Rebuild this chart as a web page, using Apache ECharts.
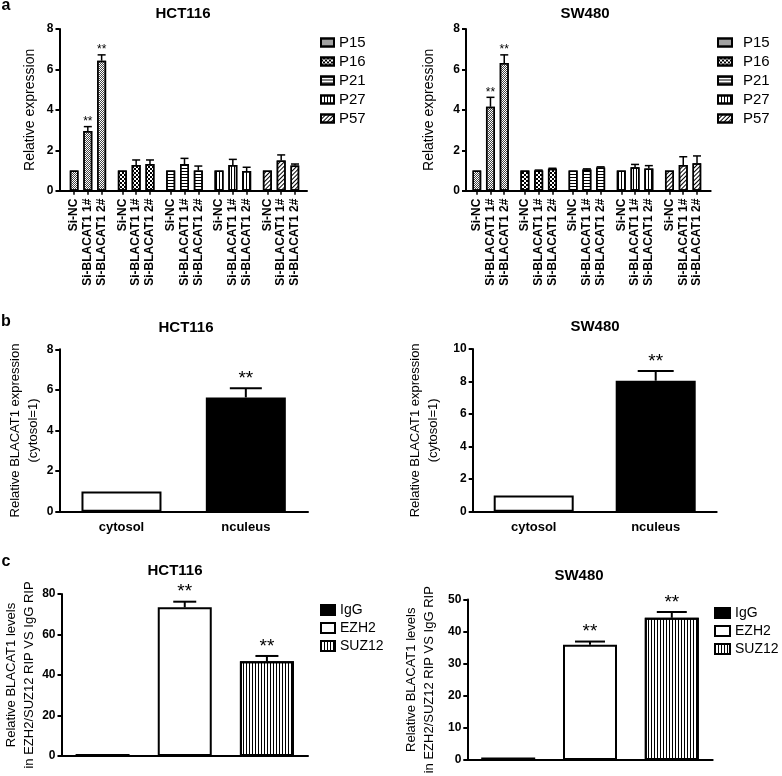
<!DOCTYPE html>
<html><head><meta charset="utf-8">
<script src="https://cdn.jsdelivr.net/npm/echarts@6/dist/echarts.min.js"></script>
<style>html,body{margin:0;padding:0;background:#fff}#c{width:782px;height:776px}</style>
</head><body><div id="c"></div>
<script>
// ---------- data ----------
const genes = ['P15', 'P16', 'P21', 'P27', 'P57'];
const siRNAs = ['Si-NC', 'Si-BLACAT1 1#', 'Si-BLACAT1 2#'];
const hctExprMean = [[1, 2.95, 6.43], [1, 1.27, 1.32], [1, 1.32, 1.0], [1, 1.27, 0.97], [1, 1.49, 1.25]];
const hctExprErr  = [[0, 0.22, 0.29], [0, 0.25, 0.2], [0, 0.28, 0.22], [0, 0.28, 0.19], [0, 0.28, 0.07]];
const hctExprSig  = [['', '**', '**'], ['', '', ''], ['', '', ''], ['', '', ''], ['', '', '']];
const swExprMean  = [[1, 4.15, 6.32], [1, 1.0, 1.08], [1, 1.05, 1.15], [1, 1.16, 1.1], [1, 1.27, 1.36]];
const swExprErr   = [[0, 0.47, 0.4], [0, 0.02, 0.03], [0, 0.03, 0.03], [0, 0.14, 0.14], [0, 0.41, 0.36]];
const swExprSig   = [['', '**', '**'], ['', '', ''], ['', '', ''], ['', '', ''], ['', '', '']];

const fractions = ['cytosol', 'nculeus'];
const hctFracMean = [1, 5.63];
const hctFracErr  = [0, 0.45];
const swFracMean  = [1, 8.05];
const swFracErr   = [0, 0.6];
const fracSig     = ['', '**'];

const ripGroups = ['IgG', 'EZH2', 'SUZ12'];
const hctRipMean = [1.0, 73.4, 46.8];
const hctRipErr  = [0, 2.8, 2.6];
const swRipMean  = [0.8, 35.9, 44.3];
const swRipErr   = [0, 1.0, 1.8];
const ripSig     = ['', '**', '**'];

const yTicksA = {min: 0, max: 8, interval: 2};
const yTicksBL = {min: 0, max: 8, interval: 2};
const yTicksBR = {min: 0, max: 10, interval: 2};
const yTicksCL = {min: 0, max: 80, interval: 20};
const yTicksCR = {min: 0, max: 50, interval: 10};

// ---------- styles ----------
const FONT = "'Liberation Sans', Arial, sans-serif";
const BLK = '#000';
const patterns = {
  P15: {color: '#fff', decal: {symbol: 'rect', color: '#444', dashArrayX: [[1, 1], [0, 1, 1, 0]], dashArrayY: [1, 0], symbolSize: 1}},
  P16: {color: '#fff', decal: {symbol: 'rect', color: '#000', dashArrayX: [[2, 2], [0, 2, 2, 0]], dashArrayY: [2, 0], symbolSize: 1}},
  P21: {color: '#fff', decal: {symbol: 'rect', color: '#000', dashArrayX: [1, 0], dashArrayY: [1, 2], symbolSize: 1}},
  P27: {color: '#fff', decal: {symbol: 'rect', color: '#000', dashArrayX: [1, 2], dashArrayY: [1, 0], symbolSize: 1}},
  P57: {color: '#fff', decal: {symbol: 'rect', color: '#000', dashArrayX: [1, 2], dashArrayY: [1, 0], symbolSize: 1, rotation: Math.PI / 4}},
  IgG: {color: '#000'},
  EZH2: {color: '#fff'},
  SUZ12: {color: '#fff', decal: {symbol: 'rect', color: '#000', dashArrayX: [1, 2], dashArrayY: [1, 0], symbolSize: 1}}
};

// ---------- slot layout for panel a (3 bars per gene, gap between genes) ----------
const SLOTS_PER_GROUP = 7, SLOT_STEP = 2;
const nSlots = (genes.length - 1) * SLOTS_PER_GROUP + (siRNAs.length - 1) * SLOT_STEP + 1;
const slotCats = new Array(nSlots).fill('');
genes.forEach((g, gi) => siRNAs.forEach((s, j) => { slotCats[gi * SLOTS_PER_GROUP + j * SLOT_STEP] = s; }));

function geneSeriesData(means, gi) {
  const arr = new Array(nSlots).fill('-');
  means[gi].forEach((m, j) => { arr[gi * SLOTS_PER_GROUP + j * SLOT_STEP] = m; });
  return arr;
}
function errDataA(means, errs) {
  const out = [];
  means.forEach((row, gi) => row.forEach((m, j) => out.push([gi * SLOTS_PER_GROUP + j * SLOT_STEP, m, errs[gi][j]])));
  return out;
}
function flat(a) { return [].concat.apply([], a); }

function errRender(sigs, capW, lw, fs, gap) {
  return function (params, api) {
    const x = api.value(0), m = api.value(1), e = api.value(2);
    const base = api.coord([x, m]);
    const top = api.coord([x, m + e]);
    const children = [];
    if (e > 0) {
      children.push({type: 'line', shape: {x1: base[0], y1: base[1], x2: top[0], y2: top[1]}, style: {stroke: BLK, lineWidth: lw}});
      children.push({type: 'line', shape: {x1: top[0] - capW / 2, y1: top[1], x2: top[0] + capW / 2, y2: top[1]}, style: {stroke: BLK, lineWidth: lw}});
    }
    const s = sigs[params.dataIndex];
    if (s) {
      children.push({type: 'text', x: top[0], y: top[1] - gap, style: {text: s, fill: BLK, font: fs + 'px ' + FONT, textAlign: 'center', textVerticalAlign: 'bottom'}});
    }
    return {type: 'group', children: children};
  };
}

// ---------- axes helpers ----------
const axisLineStyle = {show: true, lineStyle: {color: BLK, width: 2}};
function frameX(grid) {
  return {type: 'value', gridIndex: grid, min: 0, max: 1, axisLine: axisLineStyle, axisTick: {show: false}, axisLabel: {show: false}, splitLine: {show: false}};
}
function valY(grid, t, name, gap, fs) {
  return {
    type: 'value', gridIndex: grid, min: t.min, max: t.max, interval: t.interval,
    axisLine: axisLineStyle, axisTick: {show: true, length: 4, lineStyle: {color: BLK, width: 2}},
    axisLabel: {color: BLK, fontFamily: FONT, fontWeight: 'bold', fontSize: 12, margin: 6},
    splitLine: {show: false},
    name: name, nameLocation: 'middle', nameGap: gap,
    nameTextStyle: {color: BLK, fontFamily: FONT, fontSize: fs, lineHeight: fs + 5}
  };
}
function hiddenY(grid, t) {
  return {type: 'value', gridIndex: grid, min: t.min, max: t.max, interval: t.interval, show: false, splitLine: {show: false}};
}
function slotX(grid) {
  return {
    type: 'category', gridIndex: grid, data: slotCats, boundaryGap: true,
    axisLine: {show: false},
    axisTick: {show: true, alignWithLabel: true, length: 4, interval: (i, v) => v !== '', lineStyle: {color: BLK, width: 1.5}},
    axisLabel: {interval: 0, rotate: 90, margin: 8, color: BLK, fontFamily: FONT, fontWeight: 'bold', fontSize: 12}
  };
}

const grids = [
  {left: 59.5, top: 29, width: 247.5, height: 161.7},   // 0 a-left frame
  {left: 70.55, top: 29, width: 227.9, height: 161.7},  // 1 a-left bars
  {left: 466, top: 29, width: 244.7, height: 161.7},    // 2 a-right frame
  {left: 473.26, top: 29, width: 227.2, height: 161.7}, // 3 a-right bars
  {left: 59.3, top: 349.3, width: 248.7, height: 162.4},// 4 b-left
  {left: 472.7, top: 349, width: 244, height: 162.7},   // 5 b-right
  {left: 61.5, top: 594, width: 246.5, height: 162},    // 6 c-left
  {left: 467.3, top: 599.5, width: 245.4, height: 160.5}// 7 c-right
];

const xAxes = [
  frameX(0), slotX(1), frameX(2), slotX(3),
  {type: 'category', gridIndex: 4, data: fractions, axisLine: axisLineStyle, axisTick: {alignWithLabel: true, length: 5, lineStyle: {color: BLK, width: 2}}, axisLabel: {color: BLK, fontFamily: FONT, fontWeight: 'bold', fontSize: 13, margin: 9}},
  {type: 'category', gridIndex: 5, data: fractions, axisLine: axisLineStyle, axisTick: {alignWithLabel: true, length: 5, lineStyle: {color: BLK, width: 2}}, axisLabel: {color: BLK, fontFamily: FONT, fontWeight: 'bold', fontSize: 13, margin: 9}},
  {type: 'category', gridIndex: 6, position: 'bottom', data: [''], axisLine: axisLineStyle, axisTick: {alignWithLabel: true, length: 5, lineStyle: {color: BLK, width: 2}}, axisLabel: {show: false}},
  {type: 'category', gridIndex: 6, position: 'top', data: ripGroups, show: false},
  {type: 'category', gridIndex: 7, position: 'bottom', data: [''], axisLine: axisLineStyle, axisTick: {alignWithLabel: true, length: 5, lineStyle: {color: BLK, width: 2}}, axisLabel: {show: false}},
  {type: 'category', gridIndex: 7, position: 'top', data: ripGroups, show: false}
];

const yAxes = [
  valY(0, yTicksA, 'Relative expression', 20, 14),
  hiddenY(1, yTicksA),
  valY(2, yTicksA, 'Relative expression', 27, 14),
  hiddenY(3, yTicksA),
  valY(4, yTicksBL, 'Relative BLACAT1 expression\n(cytosol=1)', 7, 13),
  valY(5, yTicksBR, 'Relative BLACAT1 expression\n(cytosol=1)', 30, 13),
  valY(6, yTicksCL, 'Relative BLACAT1 levels\nin EZH2/SUZ12 RIP VS IgG RIP', 22, 13),
  valY(7, yTicksCR, 'Relative BLACAT1 levels\nin EZH2/SUZ12 RIP VS IgG RIP', 29, 13)
];

const series = [];
// panel a
[[1, hctExprMean], [3, swExprMean]].forEach(([ax, means]) => {
  genes.forEach((g, gi) => {
    series.push({
      name: g, type: 'bar', xAxisIndex: ax, yAxisIndex: ax, barWidth: 9, barGap: '-100%',
      itemStyle: Object.assign({borderColor: BLK, borderWidth: 1.5}, patterns[g]),
      data: geneSeriesData(means, gi), silent: true
    });
  });
});
series.push({type: 'custom', name: 'errA1', xAxisIndex: 1, yAxisIndex: 1, data: errDataA(hctExprMean, hctExprErr), renderItem: errRender(flat(hctExprSig), 8, 1.5, 12, -1), z: 5, silent: true});
series.push({type: 'custom', name: 'errA2', xAxisIndex: 3, yAxisIndex: 3, data: errDataA(swExprMean, swExprErr), renderItem: errRender(flat(swExprSig), 8, 1.5, 12, -1), z: 5, silent: true});
// panel b
[[4, hctFracMean, hctFracErr, 32], [5, swFracMean, swFracErr, 36]].forEach(([ax, means, errs, cap]) => {
  series.push({
    name: 'frac' + ax, type: 'bar', xAxisIndex: ax, yAxisIndex: ax, barWidth: 80, silent: true,
    data: means.map((m, i) => ({value: m, itemStyle: {color: i === 0 ? '#fff' : '#000', borderColor: BLK, borderWidth: 2}}))
  });
  series.push({type: 'custom', name: 'errB' + ax, xAxisIndex: ax, yAxisIndex: ax, data: means.map((m, i) => [i, m, errs[i]]), renderItem: errRender(fracSig, cap, 2, 19, 0), z: 5, silent: true});
});
// panel c
[[7, 6, hctRipMean, hctRipErr, 23], [9, 7, swRipMean, swRipErr, 30]].forEach(([xa, ya, means, errs, cap]) => {
  ripGroups.forEach((g, gi) => {
    const d = ripGroups.map(() => '-');
    d[gi] = means[gi];
    series.push({
      name: g, type: 'bar', xAxisIndex: xa, yAxisIndex: ya, barWidth: 54, barGap: '-100%', silent: true,
      itemStyle: Object.assign({borderColor: BLK, borderWidth: 2}, patterns[g]), data: d
    });
  });
  series.push({type: 'custom', name: 'errC' + ya, xAxisIndex: xa, yAxisIndex: ya, data: means.map((m, i) => [i, m, errs[i]]), renderItem: errRender(ripSig, cap, 2, 19, 0), z: 5, silent: true});
});

function legendAt(names, left, top, w, h, gap, padL, fs) {
  return {data: names, left: left, top: top, orient: 'vertical', icon: 'rect', itemWidth: w, itemHeight: h, itemGap: gap, selectedMode: false,
    textStyle: {color: BLK, fontFamily: FONT, fontSize: fs, padding: [0, 0, 0, padL || 0]}};
}

function label(text, x, y, fs, weight) {
  return {type: 'text', x: x, y: y, style: {text: text, fill: BLK, font: (weight || 'bold') + ' ' + fs + 'px ' + FONT, textAlign: 'center', textVerticalAlign: 'middle'}};
}

const option = {
  animation: false,
  backgroundColor: '#fff',
  grid: grids,
  xAxis: xAxes,
  yAxis: yAxes,
  legend: [
    legendAt(genes, 315, 30, 13, 8, 4, 0, 15),
    legendAt(genes, 712, 30, 14, 8, 4, 6, 15),
    legendAt(ripGroups, 315, 598, 14, 10, 4, 0, 14),
    legendAt(ripGroups, 709, 601, 15, 10, 4, 0, 14)
  ],
  graphic: [
    label('a', 6, 6, 16), label('b', 6, 322, 16), label('c', 6, 562, 16),
    label('HCT116', 183, 14, 15), label('SW480', 585, 14, 15),
    label('HCT116', 186, 328, 15), label('SW480', 595, 327, 15),
    label('HCT116', 175, 571, 15), label('SW480', 579, 576, 15)
  ],
  series: series
};

const chart = echarts.init(document.getElementById('c'), null, {renderer: 'canvas'});
chart.setOption(option);
</script>
</body></html>
